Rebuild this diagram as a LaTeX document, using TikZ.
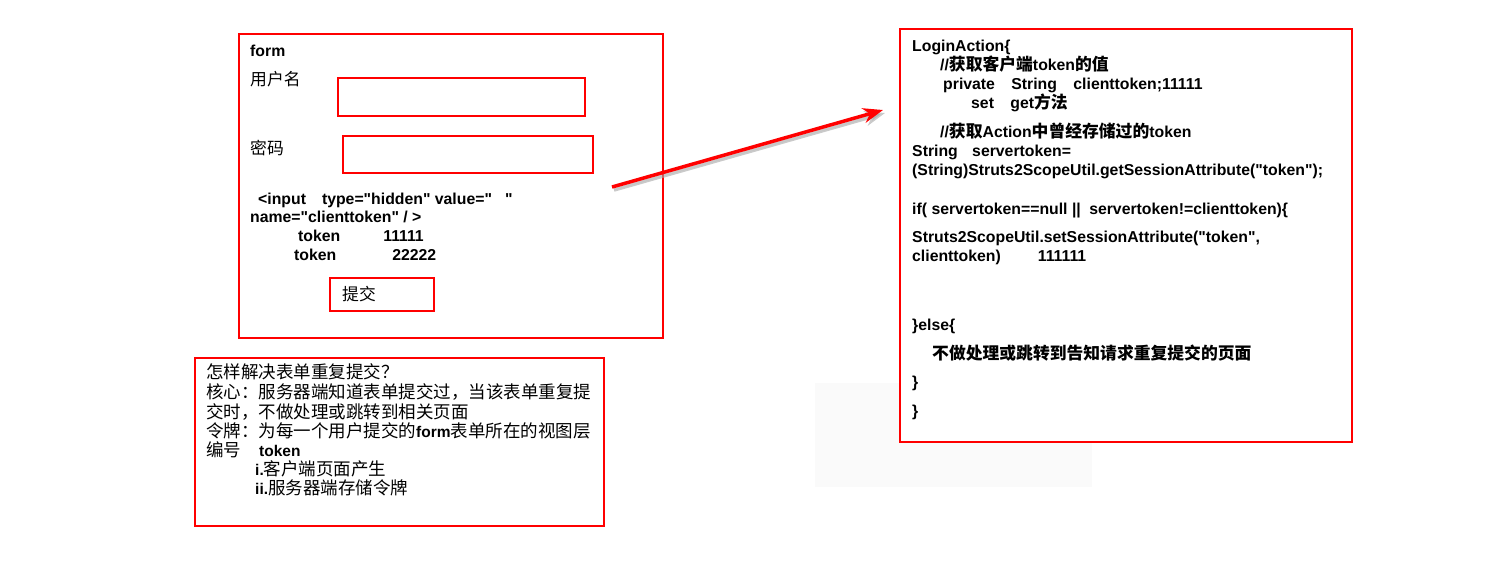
\documentclass[tikz,border=0pt]{standalone}
\usepackage{fontspec}
\setmainfont{Liberation Sans}[Ligatures=TeXOff]
\newfontfamily\cjk{Noto Sans CJK SC}
\usetikzlibrary{arrows.meta}
\newcommand\zh[1]{{\cjk\fontsize{16.8}{18}\selectfont #1}}

\begin{document}
\begin{tikzpicture}[x=1pt,y=-1pt,
    box/.style={draw=red,line width=2pt,anchor=north west,inner sep=0pt},
    txt/.style={anchor=base west,inner sep=0pt,font=\fontsize{15.8}{18}\selectfont\bfseries},
    note/.style={anchor=base west,inner sep=0pt,font=\fontsize{17.5}{20}\selectfont},
    arr/.style={red,line width=3.5pt,-{Stealth[length=20pt,width=15pt]}}]
              \useasboundingbox (0,0) rectangle (1509,587);
              \fill[black!2] (815,383) rectangle (1092,487);
              \node[box,minimum width=424pt,minimum height=304pt] (form) at (238,33) {};
              \node[box,minimum width=247pt,minimum height=38pt] (user) at (337,77) {};
              \node[box,minimum width=250pt,minimum height=37pt] (pwd) at (342,135) {};
              \node[box,minimum width=104pt,minimum height=33pt] (submit) at (329,277) {};
              \node[box,fill=white,minimum width=452pt,minimum height=413pt] (action) at (899,28) {};
              \node[box,minimum width=409pt,minimum height=168pt] (note) at (194,357) {};
              \node[txt] (formlbl) at (250,56) {form};
              \node[txt] (userlbl) at (250,85) {\mdseries\zh{用户名}};
              \node[txt] (pwdlbl) at (250,154) {\mdseries\zh{密码}};
              \node[txt] (input1) at (258,204) {<input\hspace*{16pt}type="hidden" value="\hspace*{13pt}"};
              \node[txt] (input2) at (250,222) {name="clienttoken" / >};
              \node[txt] (tok1) at (298,241) {token\hspace*{43pt}11111};
              \node[txt] (tok2) at (294,260) {token\hspace*{56pt}22222};
              \node[txt] (submitlbl) at (342,300) {\mdseries\zh{提交}};
              \node[txt] (c1) at (912,51) {LoginAction\{};
              \node[txt] (c2) at (940,70) {//\zh{获取客户端}token\zh{的值}};
              \node[txt] (c3) at (943,89) {private\hspace*{12pt} String\hspace*{12pt} clienttoken;11111};
              \node[txt] (c4) at (971,108) {set\hspace*{12pt} get\zh{方法}};
              \node[txt] (c5) at (940,137) {//\zh{获取}Action\zh{中曾经存储过的}token};
              \node[txt] (c6) at (912,156) {String\hspace*{10pt} servertoken=};
              \node[txt] (c7) at (912,175) {(String)Struts2ScopeUtil.getSessionAttribute("token");};
              \node[txt] (c8) at (912,214) {if( servertoken==null ||\hspace*{4pt} servertoken!=clienttoken)\{};
              \node[txt] (c9) at (912,242) {Struts2ScopeUtil.setSessionAttribute("token",};
              \node[txt] (c10) at (912,261) {clienttoken)\hspace*{37pt}111111};
              \node[txt] (c11) at (912,330) {\}else\{};
              \node[txt] (c12) at (932,359) {\zh{不做处理或跳转到告知请求重复提交的页面}};
              \node[txt] (c13) at (912,387) {\}};
              \node[txt] (c14) at (912,416) {\}};
              \node[note] (n1) at (206,378) {\cjk 怎样解决表单重复提交？};
              \node[note] (n2) at (206,398) {\cjk 核心：服务器端知道表单提交过，当该表单重复提};
              \node[note] (n3) at (206,418) {\cjk 交时，不做处理或跳转到相关页面};
              \node[note] (n4) at (206,437) {{\cjk 令牌：为每一个用户提交的}{\bfseries\fontsize{15.5}{18}\selectfont form}{\cjk 表单所在的视图层}};
              \node[note] (n5) at (206,456) {{\cjk 编号}\hspace*{18pt}{\bfseries\fontsize{15.5}{18}\selectfont token}};
              \node[note] (n6) at (255,475) {{\bfseries\fontsize{15.5}{18}\selectfont i.}{\cjk 客户端页面产生}};
              \node[note] (n7) at (255,494) {{\bfseries\fontsize{15.5}{18}\selectfont ii.}{\cjk 服务器端存储令牌}};
              \coordinate (from) at (612,187);
              \coordinate (to) at (883,110);
              \draw[arr,draw=black!35,fill=black!35,opacity=0.6] ([shift={(2,3)}]from) -- ([shift={(2,3)}]to);
              \draw[arr] (from) -- (to);
            \end{tikzpicture}
\end{document}
